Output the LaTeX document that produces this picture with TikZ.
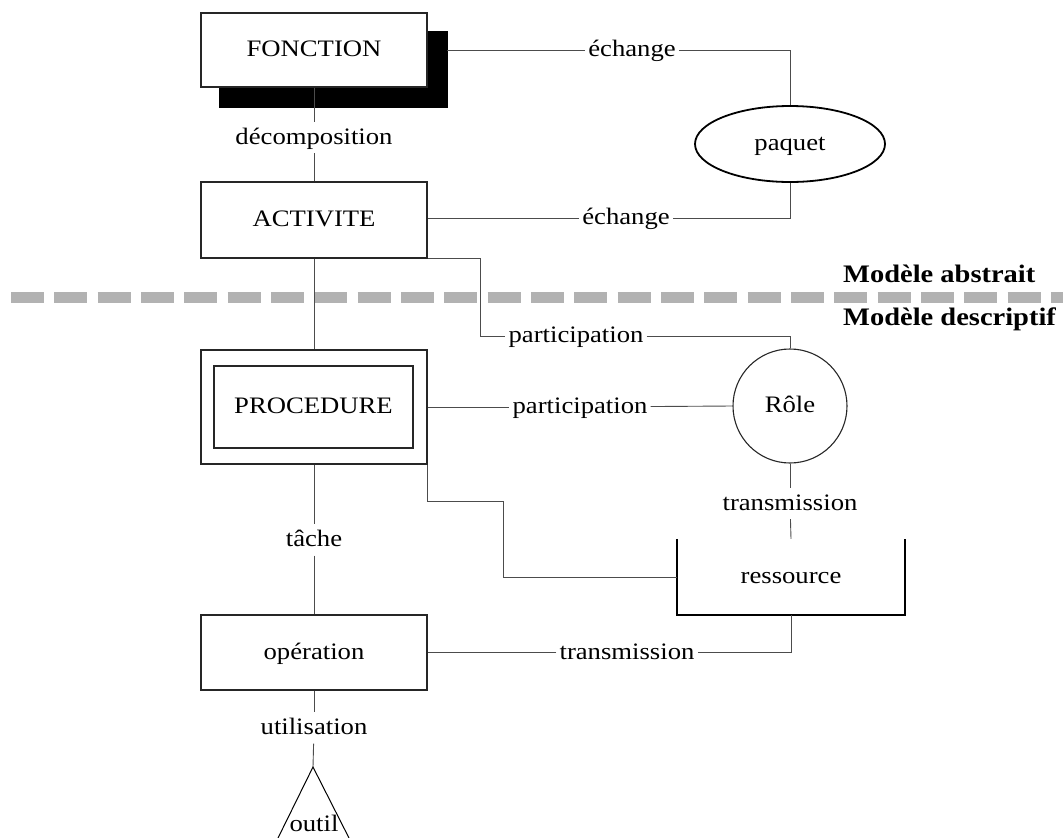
\documentclass[tikz,border=0pt]{standalone}
\usepackage{fontspec}
\setmainfont{Liberation Serif}[FakeStretch=1.13]
\usetikzlibrary{shapes.geometric}
\begin{document}
\begin{tikzpicture}[x=1pt,y=-1pt,
  font=\fontsize{23.6}{28}\selectfont,
  txt/.style={text height=18pt,text depth=5pt},
  box/.style={txt,draw=black!85,line width=1.2pt,fill=white,inner sep=0pt,minimum width=226pt},
  lbl/.style={txt,inner xsep=3pt,inner ysep=4pt},
  level/.style={txt,anchor=west,inner sep=0pt,font=\fontsize{25.2}{30}\selectfont\bfseries},
  link/.style={draw=black!70,line width=0.9pt},
  shadowbox/.style={fill=black,draw=black,inner sep=0pt,minimum width=228pt,minimum height=76pt}]
\useasboundingbox (0,0) rectangle (1063,838);
\clip (0,0) rectangle (1063,838);

% level separator
\draw[line width=11pt,color=black!30,dash pattern=on 33pt off 10.33pt] (11,297.5) -- (1075,297.5);
\node[level] (abs) at (843,276) {Modèle abstrait};
\node[level] (desc) at (843,319) {Modèle descriptif};

% shapes
\node[shadowbox] (fsh) at (333,69) {};
\node[box,minimum height=74pt] (fon) at (314,50) {FONCTION};
\node[box,minimum height=76pt] (act) at (314,220) {ACTIVITE};
\node[box,minimum height=114pt] (proc) at (314,407) {};
\node[box,minimum width=199pt,minimum height=82pt] (proci) at (313.5,407) {PROCEDURE};
\node[box,minimum height=75pt] (ope) at (314,652.5) {opération};
\node[ellipse,txt,draw=black,line width=1.8pt,minimum width=190pt,minimum height=76pt,inner sep=0pt] (paq) at (790,144) {paquet};
\node[circle,txt,draw=black!85,line width=1.1pt,minimum size=114pt,inner sep=0pt] (role) at (790,406) {Rôle};
\node[txt,minimum width=228pt,minimum height=76pt,inner sep=0pt] (res) at (791,577) {ressource};
\draw[line width=2.2pt] (res.north west) -- (res.south west) -- (res.south east) -- (res.north east);
\node[txt,inner sep=0pt] (outil) at (314,824.5) {outil};
\coordinate (apex) at (313,767);
\draw[line width=1pt] (278,838) -- (apex) -- (349,838);

% relation labels
\node[lbl] (ech1) at (632,50) {échange};
\node[lbl] (ech2) at (626,218) {échange};
\node[lbl] (dec) at (314,137.5) {décomposition};
\node[lbl] (par1) at (576,336) {participation};
\node[lbl] (par2) at (580,407) {participation};
\node[lbl] (tr1) at (790,503.5) {transmission};
\node[lbl] (tr2) at (627,652.5) {transmission};
\node[lbl] (tac) at (314,540) {tâche};
\node[lbl] (uti) at (314,728) {utilisation};

% connectors
\draw[link] (fsh.east |- fon.east) -- (ech1);
\draw[link] (ech1) -| (paq.north);
\draw[link] (paq.south) |- (ech2);
\draw[link] (ech2) -- (act.east |- ech2);
\draw[link] (fon.south) -- (dec);
\draw[link] (dec) -- (act.north);
\draw[link] (act.south) -- (proc.north);
\draw[link] (act.south east) -- ++(53,0) |- (par1);
\draw[link] (par1) -| (role.north);
\draw[link] (proc.east) -- (par2);
\draw[link] (par2) -- (role.west);
\draw[link] (role.south) -- (tr1);
\draw[link] (tr1) -- (res.north);
\draw[link] (proc.south east) -- ++(0,37) -| (503,577) -- (res.west);
\draw[link] (proc.south) -- (tac);
\draw[link] (tac) -- (ope.north);
\draw[link] (res.south) |- (tr2);
\draw[link] (tr2) -- (ope.east |- tr2);
\draw[link] (ope.south) -- (uti);
\draw[link] (uti) -- (apex);
\end{tikzpicture}
\end{document}
